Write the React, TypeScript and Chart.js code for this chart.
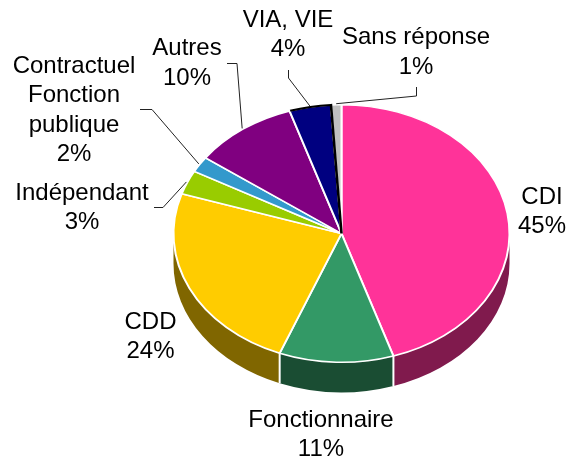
import React, { useEffect, useRef } from 'react';
import { Chart, registerables } from 'chart.js';

Chart.register(...registerables);

// ---- data ----
const categories = ['CDI', 'Fonctionnaire', 'CDD', 'Indépendant', 'Contractuel Fonction publique', 'Autres', 'VIA, VIE', 'Sans réponse'];
const labelLines = [['CDI'], ['Fonctionnaire'], ['CDD'], ['Indépendant'], ['Contractuel', 'Fonction', 'publique'], ['Autres'], ['VIA, VIE'], ['Sans réponse']];
const values = [45, 11, 24, 3, 2, 10, 4, 1];
const percentLabels = ['45%', '11%', '24%', '3%', '2%', '10%', '4%', '1%'];

// ---- styles ----
const topColors = ['#FF3399', '#339966', '#FFCC00', '#99CC00', '#3399CC', '#800080', '#000080', '#C0C0C0'];
const sideColors = ['#801A4D', '#1A4D33', '#806600', '#4D6600', '#1A4D66', '#400040', '#000040', '#606060'];
const SELECTED_INDEX = 6; // slice outlined in black in the original

// ---- layout ----
const RADIUS = 168;
const TILT = 0.767;
const DEPTH = 30;
const LINE_H = 29.6;
const FONT = '24px "Liberation Sans", Arial, Helvetica, sans-serif';
// label anchor: centre x, first baseline y; leader: label-side polyline points
const labelLayout: { x: number; y: number; leader: number[][] | null }[] = [
  { x: 542, y: 203.5, leader: null },
  { x: 321, y: 426.5, leader: null },
  { x: 150.5, y: 328.5, leader: null },
  { x: 82, y: 199.5, leader: [[154, 207.5], [163, 207.5]] },
  { x: 74, y: 72.5, leader: [[140, 109.5], [152, 109.5]] },
  { x: 187, y: 55, leader: [[227, 63.5], [237, 63.5]] },
  { x: 288, y: 26.5, leader: [[288.5, 70], [288.5, 78]] },
  { x: 416, y: 44, leader: [[416.5, 87], [416.5, 96]] },
];

const pie3d = {
  id: 'pie3d',
  beforeDatasetsDraw(chart: any) {
    const ctx: CanvasRenderingContext2D = chart.ctx;
    const arcs = chart.getDatasetMeta(0).data;
    if (!arcs.length) return;
    const { x: cx, y: cy, outerRadius: R } = arcs[0].getProps(['x', 'y', 'outerRadius'], true);
    const ry = R * TILT;
    ctx.save();
    const boundaries: number[] = [];
    arcs.forEach((arc: any, i: number) => {
      const { startAngle, endAngle } = arc.getProps(['startAngle', 'endAngle'], true);
      const a1 = Math.max(startAngle, 0);
      const a2 = Math.min(endAngle, Math.PI);
      if (a2 <= a1) return;
      ctx.beginPath();
      ctx.ellipse(cx, cy, R, ry, 0, a1, a2, false);
      ctx.lineTo(cx + R * Math.cos(a2), cy + DEPTH + ry * Math.sin(a2));
      ctx.ellipse(cx, cy + DEPTH, R, ry, 0, a2, a1, true);
      ctx.closePath();
      ctx.fillStyle = sideColors[i];
      ctx.fill();
      if (startAngle > 0 && startAngle < Math.PI) boundaries.push(startAngle);
    });
    ctx.strokeStyle = '#FFFFFF';
    ctx.lineWidth = 2;
    boundaries.forEach((a) => {
      const x = cx + R * Math.cos(a);
      const y = cy + ry * Math.sin(a);
      ctx.beginPath();
      ctx.moveTo(x, y);
      ctx.lineTo(x, y + DEPTH);
      ctx.stroke();
    });
    ctx.restore();
    ctx.save();
    ctx.translate(0, cy);
    ctx.scale(1, TILT);
    ctx.translate(0, -cy);
  },
  afterDatasetsDraw(chart: any) {
    const ctx: CanvasRenderingContext2D = chart.ctx;
    const arcs = chart.getDatasetMeta(0).data;
    const sel = arcs[SELECTED_INDEX];
    if (sel) {
      const { x, y, outerRadius, startAngle, endAngle } = sel.getProps(['x', 'y', 'outerRadius', 'startAngle', 'endAngle'], true);
      ctx.beginPath();
      ctx.arc(x, y, outerRadius, startAngle + 0.004, endAngle, false);
      ctx.lineTo(x, y);
      ctx.strokeStyle = '#000000';
      ctx.lineWidth = 2.6;
      ctx.lineJoin = 'miter';
      ctx.stroke();
    }
    ctx.restore();
  },
  afterDraw(chart: any) {
    const ctx: CanvasRenderingContext2D = chart.ctx;
    const arcs = chart.getDatasetMeta(0).data;
    if (!arcs.length) return;
    const { x: cx, y: cy, outerRadius: R } = arcs[0].getProps(['x', 'y', 'outerRadius'], true);
    const ry = R * TILT;
    ctx.save();
    ctx.font = FONT;
    ctx.fillStyle = '#000000';
    ctx.textAlign = 'center';
    ctx.textBaseline = 'alphabetic';
    arcs.forEach((arc: any, i: number) => {
      const lay = labelLayout[i];
      const lines = [...labelLines[i], percentLabels[i]];
      lines.forEach((t, j) => ctx.fillText(t, lay.x, lay.y + j * LINE_H));
      if (lay.leader) {
        const { startAngle, endAngle } = arc.getProps(['startAngle', 'endAngle'], true);
        const mid = (startAngle + endAngle) / 2;
        const px = cx + (R + 1) * Math.cos(mid);
        const py = cy + (ry + 1) * Math.sin(mid);
        ctx.beginPath();
        ctx.moveTo(lay.leader[0][0], lay.leader[0][1]);
        for (let k = 1; k < lay.leader.length; k++) ctx.lineTo(lay.leader[k][0], lay.leader[k][1]);
        ctx.lineTo(px, py);
        ctx.strokeStyle = '#222222';
        ctx.lineWidth = 1;
        ctx.stroke();
      }
    });
    ctx.restore();
  },
};

export default function App() {
  const ref = useRef<HTMLCanvasElement>(null);
  useEffect(() => {
    if (!ref.current) return;
    const chart = new Chart(ref.current, {
      type: 'pie',
      data: {
        labels: categories,
        datasets: [
          {
            data: values,
            backgroundColor: topColors,
            borderColor: '#FFFFFF',
            borderWidth: 2,
            radius: RADIUS,
            clip: false,
          } as any,
        ],
      },
      options: {
        animation: false,
        responsive: false,
        events: [],
        layout: { padding: { left: 112, right: 0, top: 5, bottom: 0 } },
        plugins: { legend: { display: false }, tooltip: { enabled: false } },
      },
      plugins: [pie3d],
    });
    return () => chart.destroy();
  }, []);
  return (
    <div style={{ position: 'absolute', left: 0, top: 0, width: 571, height: 462, background: '#fff' }}>
      <canvas ref={ref} width={571} height={462} />
    </div>
  );
}
